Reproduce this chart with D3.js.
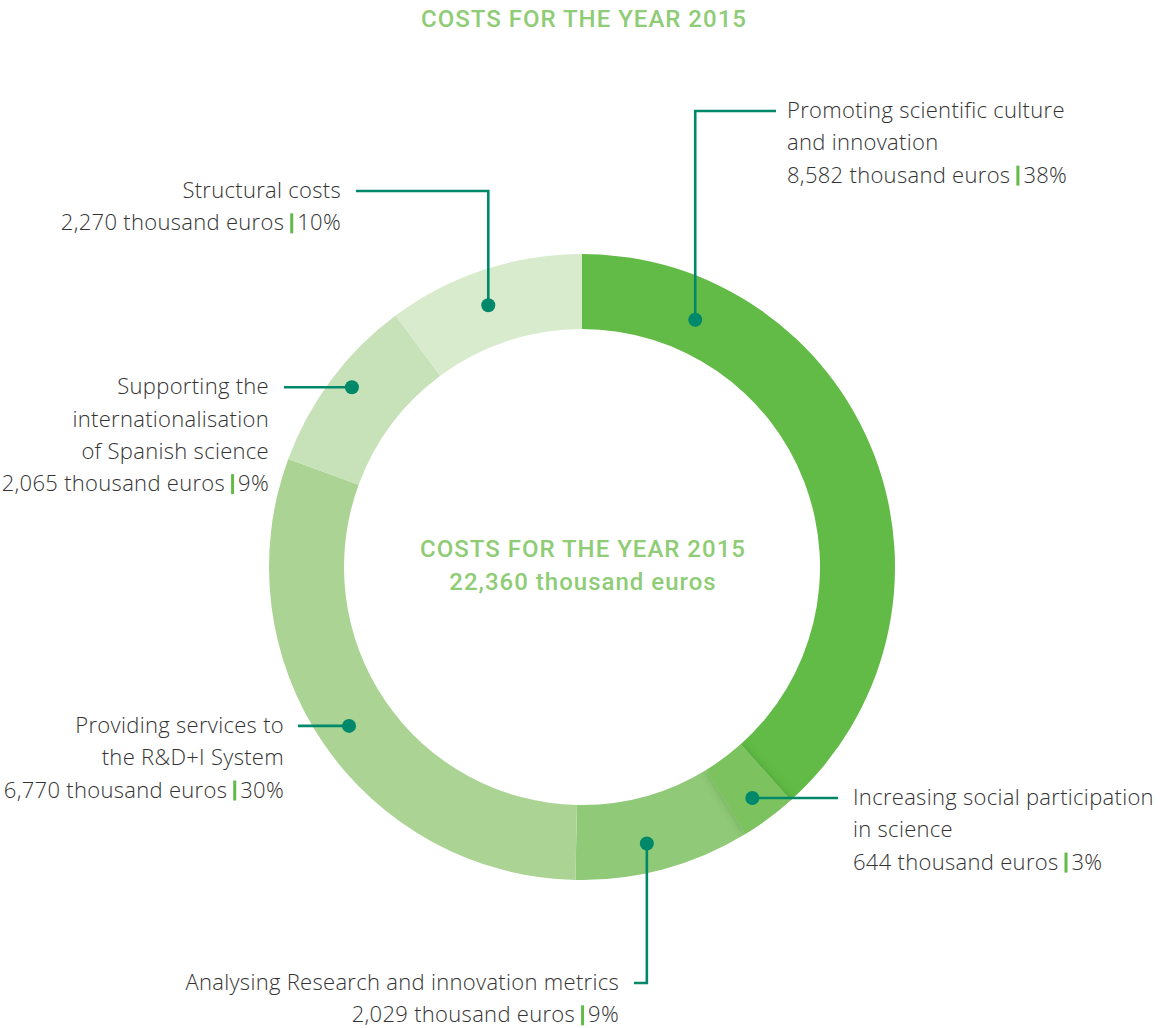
<!DOCTYPE html>
<html>
<head>
<meta charset="utf-8">
<script src="https://cdn.jsdelivr.net/npm/d3@7"></script>
<style>
  body { margin: 0; background: #ffffff; }
  .lbl text { font-family: "Open Sans", "Noto Sans", sans-serif; font-weight: 300; letter-spacing: 0.3px; }
  .head { font-family: Roboto, sans-serif; }
</style>
</head>
<body>
<svg id="chart" width="1173" height="1028"></svg>
<script>
// Cost breakdown, clockwise from 12 o'clock
const categories = [
  "Promoting scientific culture and innovation",
  "Increasing social participation in science",
  "Analysing Research and innovation metrics",
  "Providing services to the R&D+I System",
  "Supporting the internationalisation of Spanish science",
  "Structural costs"
];
const labelLines = [
  ["Promoting scientific culture", "and innovation"],
  ["Increasing social participation", "in science"],
  ["Analysing Research and innovation metrics"],
  ["Providing services to", "the R&D+I System"],
  ["Supporting the", "internationalisation", "of Spanish science"],
  ["Structural costs"]
];
const values = [8582, 644, 2029, 6770, 2065, 2270];
const titleText = "COSTS FOR THE YEAR 2015";
const unitText = "thousand euros";

const colors = ["#62bb46", "#7cc35f", "#90c977", "#abd494", "#c7e2b8", "#d9ebcd"];
const leaderColor = "#00886a";
const textColor = "#333333";
const accent = "#8fcc76";

const svg = d3.select("#chart");
const cx = 582, cy = 567, outerR = 313, innerR = 238;
const fmt = d3.format(",");
const total = d3.sum(values);

// soft shadow cast by the small segment onto its neighbours, kept inside the ring
const defs = svg.append("defs");
const shadow = defs.append("filter").attr("id", "soft")
  .attr("x", "-30%").attr("y", "-30%").attr("width", "160%").attr("height", "160%");
shadow.append("feDropShadow")
  .attr("dx", 0).attr("dy", 0).attr("stdDeviation", 5)
  .attr("flood-color", "#1f5a14").attr("flood-opacity", 0.28);

// Title
svg.append("text")
  .attr("class", "head")
  .attr("x", 584).attr("y", 27)
  .attr("text-anchor", "middle")
  .attr("font-weight", 500)
  .attr("font-size", 24)
  .attr("letter-spacing", 1)
  .attr("fill", accent)
  .text(titleText);

// Donut
const pie = d3.pie().sort(null).value(d => d)(values);
const arc = d3.arc().innerRadius(innerR).outerRadius(outerR);
const ring = svg.append("g").attr("transform", `translate(${cx},${cy})`);
defs.append("clipPath").attr("id", "ringClip")
  .append("path")
  .attr("d", d3.arc().innerRadius(innerR).outerRadius(outerR)({ startAngle: 0, endAngle: 2 * Math.PI }));
ring.selectAll("path.seg")
  .data(pie)
  .join("path")
  .attr("class", "seg")
  .attr("d", arc)
  .attr("fill", (d, i) => colors[i]);
// redraw the 3% slice on top with its shadow
ring.append("g").attr("clip-path", "url(#ringClip)")
  .append("path")
  .attr("d", arc(pie[1]))
  .attr("fill", colors[1])
  .attr("filter", "url(#soft)");

// Centre caption
const centre = svg.append("g")
  .attr("class", "head")
  .attr("fill", accent)
  .attr("font-weight", 500)
  .attr("text-anchor", "middle");
centre.append("text").attr("x", 583).attr("y", 557)
  .attr("font-size", 24).attr("letter-spacing", 1).text(titleText);
centre.append("text").attr("x", 583).attr("y", 590)
  .attr("font-size", 24).attr("letter-spacing", 1)
  .text(`${fmt(total)} ${unitText}`);

// Label placement: dot angle (deg) and radius on the ring, leader route, text anchor
const layout = [
  { a: 24.6,  r: 272, route: "up",    turnY: 111, endX: 776, anchor: "start", tx: 787 },
  { a: 143.6, r: 287, route: "flat",  endX: 838,  anchor: "start", tx: 853 },
  { a: 166.8, r: 284, route: "down",  turnY: 983, endX: 634, anchor: "end", tx: 619 },
  { a: 235.7, r: 282, route: "flat",  endX: 298,  anchor: "end", tx: 284 },
  { a: 308.0, r: 292, route: "flat",  endX: 284,  anchor: "end", tx: 269 },
  { a: 340.3, r: 278, route: "up",    turnY: 191, endX: 356, anchor: "end", tx: 341 }
];

const lineGap = 32.3;
const fontSize = 22;
const labels = svg.append("g").attr("class", "lbl");

layout.forEach((L, i) => {
  const ang = L.a * Math.PI / 180;
  const dx = cx + L.r * Math.sin(ang);
  const dy = cy - L.r * Math.cos(ang);

  let pts, textY;
  if (L.route === "flat") {
    pts = [[dx, dy], [L.endX, dy]];
    textY = dy;
  } else {
    pts = [[dx, dy], [dx, L.turnY], [L.endX, L.turnY]];
    textY = L.turnY;
  }
  labels.append("path")
    .attr("d", d3.line()(pts))
    .attr("fill", "none")
    .attr("stroke", leaderColor)
    .attr("stroke-width", 2.6);
  labels.append("circle")
    .attr("cx", dx).attr("cy", dy).attr("r", 7)
    .attr("fill", leaderColor);

  const g = labels.append("g")
    .attr("font-size", fontSize)
    .attr("fill", textColor);
  const lines = labelLines[i];
  lines.forEach((ln, k) => {
    g.append("text")
      .attr("x", L.tx)
      .attr("y", textY + 7 + k * lineGap)
      .attr("text-anchor", L.anchor)
      .text(ln);
  });

  // value line: amount | percentage
  const vy = textY + 7 + lines.length * lineGap;
  const amount = `${fmt(values[i])} ${unitText}`;
  const pct = `${Math.round(values[i] / total * 100)}%`;
  const gapL = 6, gapR = 4, barW = 3;
  if (L.anchor === "start") {
    const t1 = g.append("text").attr("x", L.tx).attr("y", vy).text(amount);
    const w1 = t1.node().getComputedTextLength();
    const bx = L.tx + w1 + gapL;
    g.append("rect").attr("x", bx).attr("y", vy - 17).attr("width", barW).attr("height", 20).attr("fill", "#62bb46");
    g.append("text").attr("x", bx + barW + gapR).attr("y", vy).text(pct);
  } else {
    const t2 = g.append("text").attr("x", L.tx).attr("y", vy).attr("text-anchor", "end").text(pct);
    const w2 = t2.node().getComputedTextLength();
    const bx = L.tx - w2 - gapR - barW;
    g.append("rect").attr("x", bx).attr("y", vy - 17).attr("width", barW).attr("height", 20).attr("fill", "#62bb46");
    g.append("text").attr("x", bx - gapL).attr("y", vy).attr("text-anchor", "end").text(amount);
  }
});
</script>
</body>
</html>
